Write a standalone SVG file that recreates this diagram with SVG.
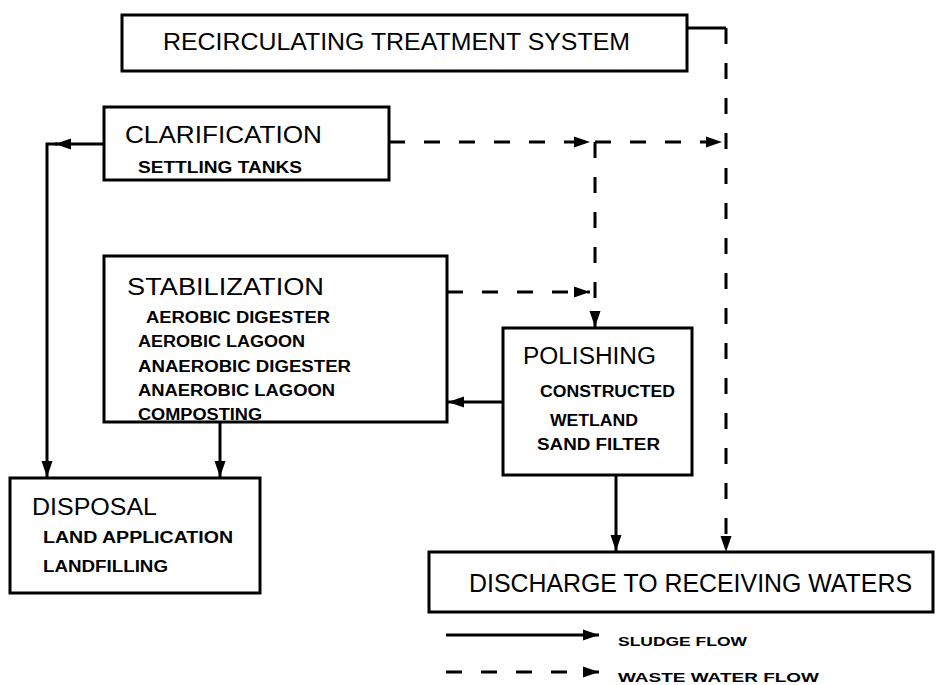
<svg xmlns="http://www.w3.org/2000/svg" width="939" height="685" viewBox="0 0 939 685">
<style>
.box{fill:#fff;stroke:#000;stroke-width:3}
.t{font-family:"Liberation Sans",Arial,sans-serif;fill:#000}
.h{font-size:23px}
.s{font-size:16px;font-weight:bold}
.l{font-size:13px;font-weight:bold}
.solid{fill:none;stroke:#000;stroke-width:3}
.dash{fill:none;stroke:#000;stroke-width:3;stroke-dasharray:16 19}
</style>
<defs>
<marker id="ah" markerUnits="userSpaceOnUse" markerWidth="18" markerHeight="12" refX="16" refY="6" orient="auto">
<path d="M0,0.5 L16,6 L0,11.5 z" fill="#000"/>
</marker>
</defs>
<rect width="939" height="685" fill="#fff"/>
<g id="connectors">
<path class="solid" d="M687,28 L726,28"/>
<path class="dash" d="M726,28 L726,552" marker-end="url(#ah)"/>
<path class="dash" d="M389,142 L590,142" marker-end="url(#ah)"/>
<path class="dash" d="M595,142 L722,142" marker-end="url(#ah)"/>
<path class="dash" d="M595,142 L595,327" marker-end="url(#ah)"/>
<path class="dash" d="M447,292 L590,292" marker-end="url(#ah)"/>
<path class="solid" d="M503,402 L448,402" marker-end="url(#ah)"/>
<path class="solid" d="M104,144 L55,144" marker-end="url(#ah)"/>
<path class="solid" d="M58,144 L47,144 L47,477" marker-end="url(#ah)"/>
<path class="solid" d="M220,422 L220,477" marker-end="url(#ah)"/>
<path class="solid" d="M616,475 L616,551" marker-end="url(#ah)"/>
<path class="solid" d="M446,635 L599,635" marker-end="url(#ah)"/>
<path class="dash" d="M446,672 L599,672" marker-end="url(#ah)"/>
</g>
<g id="recirculating">
<rect class="box" x="122" y="15" width="565" height="56"/>
<text class="t h" x="163" y="50" textLength="467" lengthAdjust="spacingAndGlyphs">RECIRCULATING TREATMENT SYSTEM</text>
</g>
<g id="clarification">
<rect class="box" x="104" y="107" width="285" height="73"/>
<text class="t h" x="125" y="143" textLength="197" lengthAdjust="spacingAndGlyphs">CLARIFICATION</text>
<text class="t s" x="138" y="173" textLength="164" lengthAdjust="spacingAndGlyphs">SETTLING TANKS</text>
</g>
<g id="stabilization">
<rect class="box" x="104" y="256" width="343" height="166"/>
<text class="t h" x="127" y="295" textLength="197" lengthAdjust="spacingAndGlyphs">STABILIZATION</text>
<text class="t s" x="146" y="323" textLength="184" lengthAdjust="spacingAndGlyphs">AEROBIC DIGESTER</text>
<text class="t s" x="138" y="347" textLength="167" lengthAdjust="spacingAndGlyphs">AEROBIC LAGOON</text>
<text class="t s" x="138" y="372" textLength="213" lengthAdjust="spacingAndGlyphs">ANAEROBIC DIGESTER</text>
<text class="t s" x="138" y="396" textLength="197" lengthAdjust="spacingAndGlyphs">ANAEROBIC LAGOON</text>
<text class="t s" x="138" y="420" textLength="124" lengthAdjust="spacingAndGlyphs" font-weight="normal">COMPOSTING</text>
</g>
<g id="polishing">
<rect class="box" x="503" y="328" width="189" height="147"/>
<text class="t h" x="523" y="364" textLength="133" lengthAdjust="spacingAndGlyphs">POLISHING</text>
<text class="t s" x="540" y="397" textLength="135" lengthAdjust="spacingAndGlyphs">CONSTRUCTED</text>
<text class="t s" x="550" y="426" textLength="88" lengthAdjust="spacingAndGlyphs">WETLAND</text>
<text class="t s" x="537" y="450" textLength="123" lengthAdjust="spacingAndGlyphs">SAND FILTER</text>
</g>
<g id="disposal">
<rect class="box" x="10" y="478" width="250" height="115"/>
<text class="t h" x="32" y="515" textLength="125" lengthAdjust="spacingAndGlyphs">DISPOSAL</text>
<text class="t s" x="43" y="543" textLength="190" lengthAdjust="spacingAndGlyphs">LAND APPLICATION</text>
<text class="t s" x="43" y="572" textLength="125" lengthAdjust="spacingAndGlyphs">LANDFILLING</text>
</g>
<g id="discharge">
<rect class="box" x="429" y="552" width="504" height="60"/>
<text class="t" x="469" y="592" font-size="25" textLength="443" lengthAdjust="spacingAndGlyphs">DISCHARGE TO RECEIVING WATERS</text>
</g>
<g id="legend">
<text class="t l" x="618" y="646" textLength="129" lengthAdjust="spacingAndGlyphs">SLUDGE FLOW</text>
<text class="t l" x="618" y="682" textLength="201" lengthAdjust="spacingAndGlyphs">WASTE WATER FLOW</text>
</g>
</svg>
